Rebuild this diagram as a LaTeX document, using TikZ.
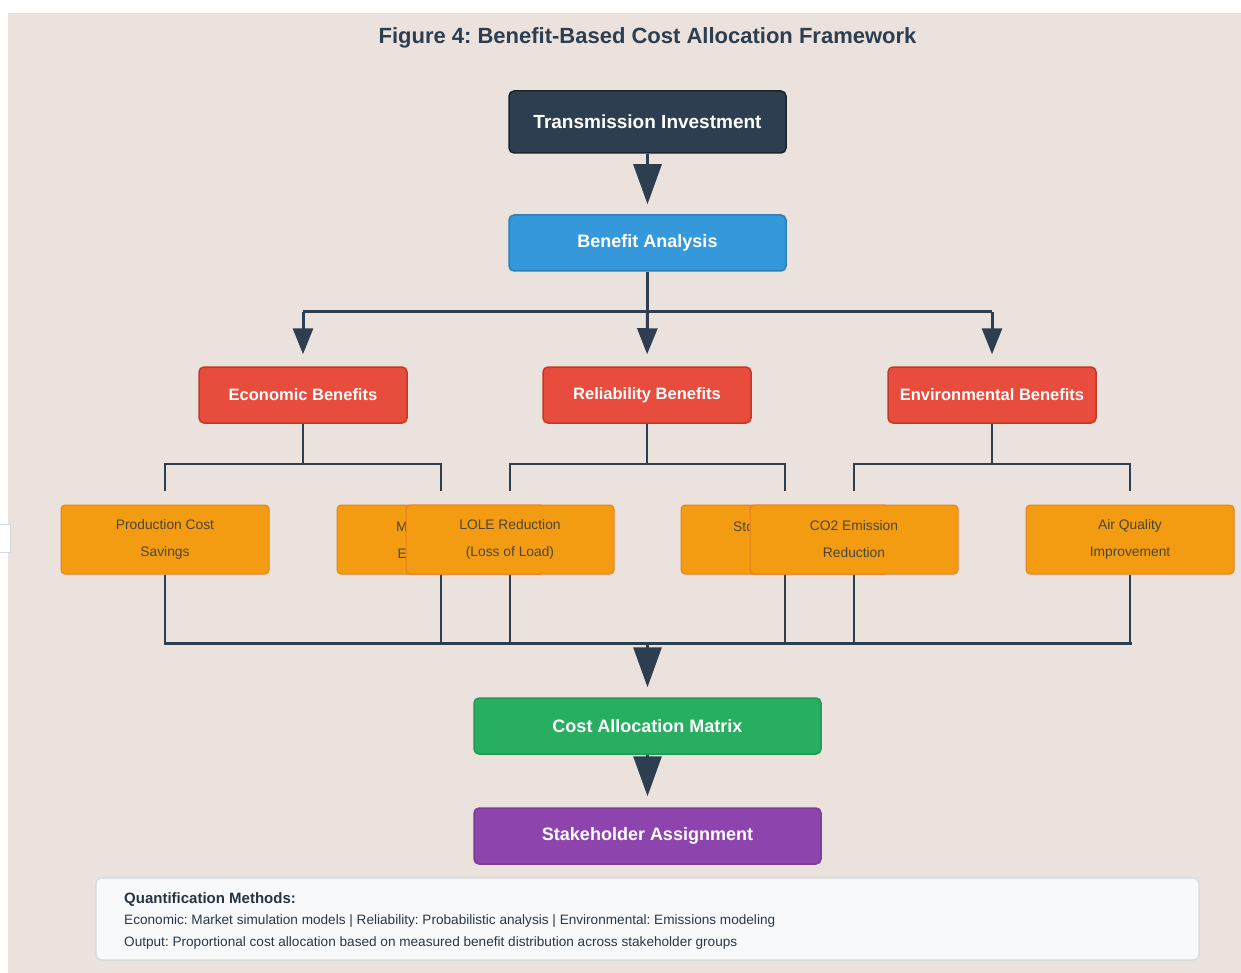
\documentclass[tikz,border=0pt]{standalone}
\usepackage{fontspec}
\setmainfont{Liberation Sans}
\usetikzlibrary{arrows.meta,calc}
\frenchspacing
\definecolor{bgc}{HTML}{EBE2DD}
\definecolor{navy}{HTML}{2C3E50}
\definecolor{navyb}{HTML}{1A252F}
\definecolor{blu}{HTML}{3498DB}
\definecolor{blub}{HTML}{2980B9}
\definecolor{redc}{HTML}{E74C3C}
\definecolor{redb}{HTML}{C0392B}
\definecolor{ora}{HTML}{F39C12}
\definecolor{orab}{HTML}{E67E22}
\definecolor{grn}{HTML}{27AE60}
\definecolor{grnb}{HTML}{229954}
\definecolor{pur}{HTML}{8E44AD}
\definecolor{purb}{HTML}{7D3C98}
\definecolor{notef}{HTML}{F8F9FA}
\definecolor{noteb}{HTML}{D5D8DC}
\definecolor{otext}{HTML}{4A4536}
\begin{document}
\begin{tikzpicture}[x=1pt,y=-1pt,
  mainbox/.style={draw, line width=1.5pt, rounded corners=5pt, minimum width=#1, minimum height=56pt, inner sep=0pt, text=white, font=\bfseries\fontsize{18}{21}\selectfont},
  redbox/.style={mainbox=208pt, fill=redc, draw=redb, font=\bfseries\fontsize{16.5}{19}\selectfont},
  leafbox/.style={draw=orab, fill=ora, line width=1pt, rounded corners=4pt, minimum width=208pt, minimum height=69pt, inner sep=0pt, text=otext, align=center, font=\fontsize{13.8}{27}\selectfont},
  ptxt/.style={text=otext, inner sep=0pt, font=\fontsize{13.8}{16}\selectfont},
  conn/.style={draw=navy, line width=3pt},
  thin/.style={draw=navy, line width=2.2pt},
  bigarr/.style={draw=navy, line width=3pt, -{Triangle[width=28pt,length=40pt]}},
  midarr/.style={draw=navy, line width=3pt, -{Triangle[width=20pt,length=26pt]}}
]
\useasboundingbox (0,0) rectangle (1241,973);
\fill[white] (0,0) rectangle (1241,973);
\fill[bgc] (8,13) rectangle (1241,973);
\draw[draw=noteb, fill=white, line width=0.8pt] (-4,524) rectangle (10,552);

\node[text=navy, font=\bfseries\fontsize{22}{26}\selectfont] (title) at (647.5,37.5) {Figure 4: Benefit-Based Cost Allocation Framework};

\node[mainbox=277pt, minimum height=62pt, fill=navy, draw=navyb, font=\bfseries\fontsize{19}{22}\selectfont] (ti) at (647.5,122) {Transmission Investment};
\node[mainbox=277pt, fill=blu, draw=blub] (ba) at (647.5,243) {Benefit Analysis};

\node[redbox] (eb) at (303,395) {Economic Benefits};
\node[redbox] (rb) at (647,395) {Reliability Benefits};
\node[redbox] (vb) at (992,395) {Environmental Benefits};

\node[leafbox] (pcs) at (165,539.5) {\raisebox{-1.5pt}{Production Cost}\\\raisebox{-1.5pt}{Savings}};
\node[leafbox] (mkt) at (441,539.5) {};
\node[ptxt, anchor=west] (mktA) at (396,527) {M};
\node[ptxt, anchor=west] (mktB) at (397.5,554) {E};
\node[leafbox] (lole) at (510,539.5) {\raisebox{-1.5pt}{LOLE Reduction}\\\raisebox{-1.5pt}{(Loss of Load)}};
\node[leafbox] (sto) at (785,539.5) {};
\node[ptxt, anchor=west] (stoA) at (733,527) {Sto};
\node[leafbox] (co2) at (854,539.5) {\raisebox{-1.5pt}{CO2 Emission}\\\raisebox{-1.5pt}{Reduction}};
\node[leafbox] (aq) at (1130,539.5) {\raisebox{-1.5pt}{Air Quality}\\\raisebox{-1.5pt}{Improvement}};

\node[mainbox=347pt, fill=grn, draw=grnb] (cam) at (647.5,726) {Cost Allocation Matrix};
\node[mainbox=347pt, fill=pur, draw=purb] (sa) at (647.5,836) {Stakeholder Assignment};

\node[draw=noteb, fill=notef, line width=1.2pt, rounded corners=6pt, minimum width=1103pt, minimum height=82pt, inner sep=0pt] (note) at (647.5,919) {};
\node[anchor=west, inner sep=0pt, text=navy!85!black, font=\bfseries\fontsize{15}{18}\selectfont] (nh) at (124,900) {Quantification Methods:};
\node[anchor=west, inner sep=0pt, text=navy!90!black, font=\fontsize{13.6}{16}\selectfont] (n1) at (124,921.5) {Economic: Market simulation models | Reliability: Probabilistic analysis | Environmental: Emissions modeling};
\node[anchor=west, inner sep=0pt, text=navy!90!black, font=\fontsize{13.6}{16}\selectfont] (n2) at (124,942.5) {Output: Proportional cost allocation based on measured benefit distribution across stakeholder groups};

% top arrow
\draw[bigarr, shorten >=10pt] (ti.south) -- (ba.north);

% first branching
\coordinate (bus1) at (647.5,312);
\draw[conn] (ba.south) -- (bus1);
\draw[conn] ($(eb.north |- bus1)$) -- ($(vb.north |- bus1)$);
\draw[midarr, shorten >=12pt] (eb.north |- bus1) -- (eb.north);
\draw[midarr, shorten >=12pt] (bus1) -- (rb.north);
\draw[midarr, shorten >=12pt] (vb.north |- bus1) -- (vb.north);

% second branching
\draw[thin] (eb.south) -- ++(0,40) -| ($(pcs.north)+(0,-14)$);
\draw[thin] (eb.south) ++(0,40) -| ($(mkt.north)+(0,-14)$);
\draw[thin] (rb.south) -- ++(0,40) -| ($(lole.north)+(0,-14)$);
\draw[thin] (rb.south) ++(0,40) -| ($(sto.north)+(0,-14)$);
\draw[thin] (vb.south) -- ++(0,40) -| ($(co2.north)+(0,-14)$);
\draw[thin] (vb.south) ++(0,40) -| ($(aq.north)+(0,-14)$);

% collecting bus
\coordinate (bus2) at (647.5,643);
\draw[thin] (pcs.south) -- (pcs.south |- bus2);
\draw[thin] (mkt.south) -- (mkt.south |- bus2);
\draw[thin] (lole.south) -- (lole.south |- bus2);
\draw[thin] (sto.south) -- (sto.south |- bus2);
\draw[thin] (co2.south) -- (co2.south |- bus2);
\draw[thin] (aq.south) -- (aq.south |- bus2);
\draw[conn, line cap=rect] (pcs.south |- bus2) -- (aq.south |- bus2);
\draw[bigarr, shorten >=10pt] (bus2) -- (cam.north);
\draw[bigarr, shorten >=11pt] (cam.south) -- (sa.north);
\end{tikzpicture}
\end{document}
